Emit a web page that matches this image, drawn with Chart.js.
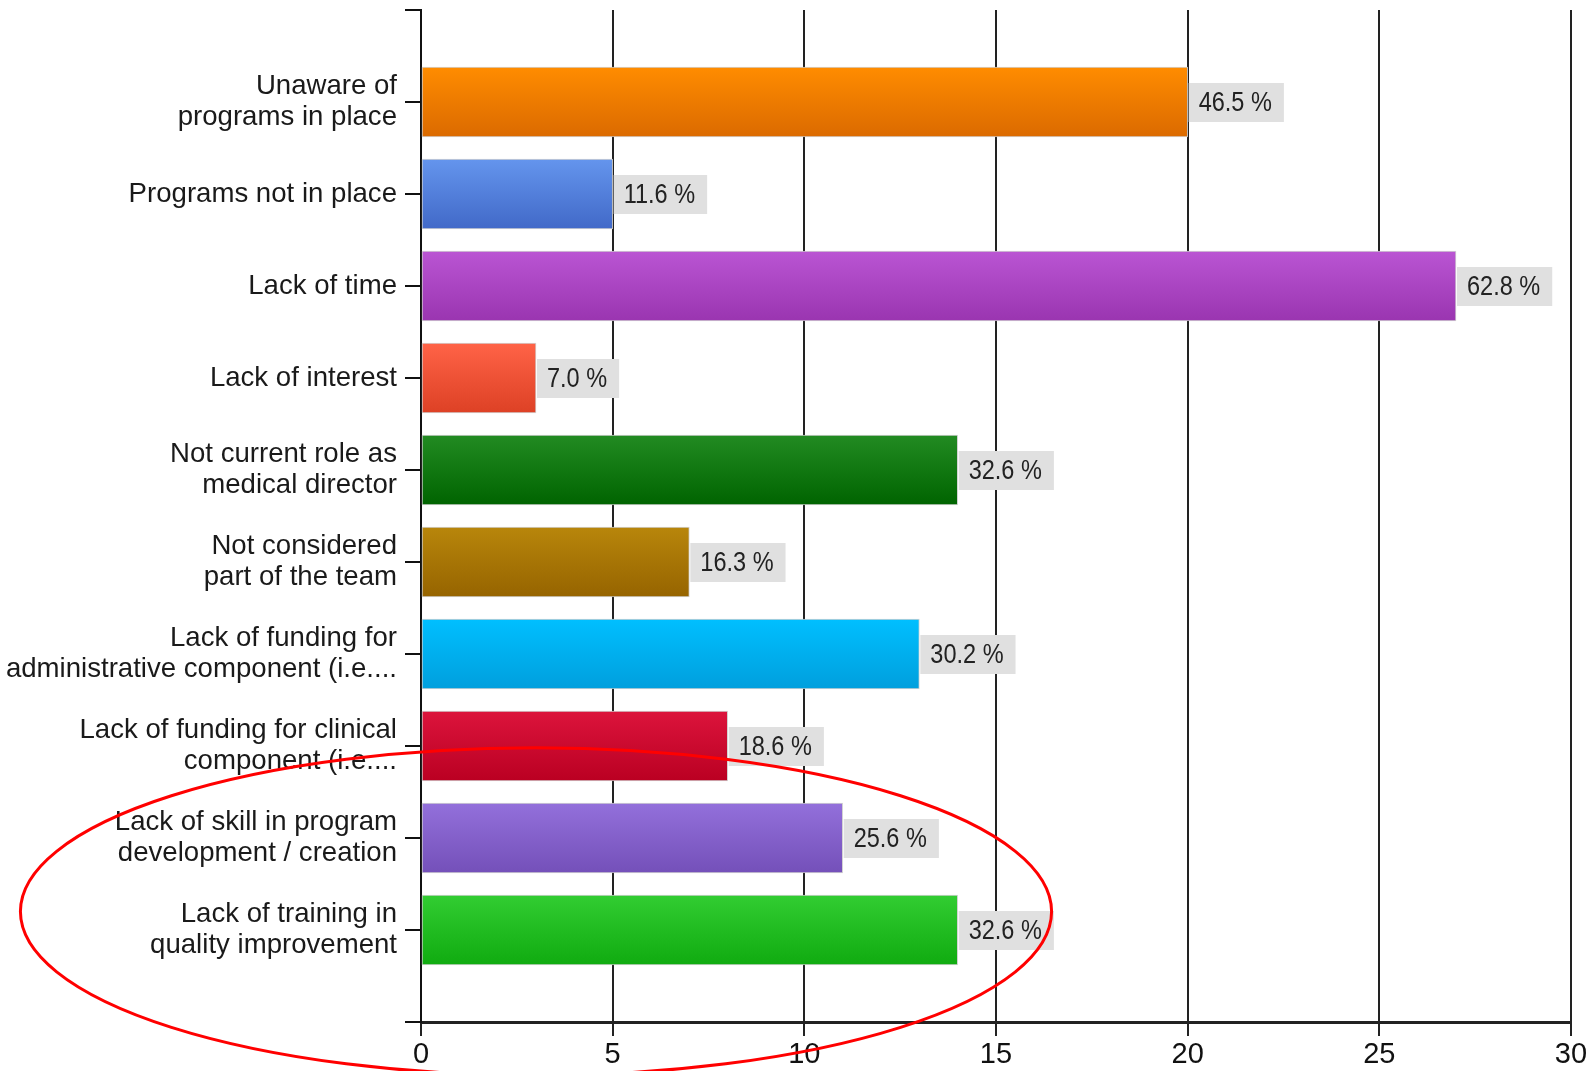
<!DOCTYPE html>
<html>
<head>
<meta charset="utf-8">
<script src="https://cdn.jsdelivr.net/npm/chart.js@4.4.0/dist/chart.umd.min.js"></script>
<style>
  html, body { margin: 0; padding: 0; background: #fff; }
  #wrap { width: 1590px; height: 1071px; position: relative; }
</style>
</head>
<body>
<div id="wrap"><canvas id="myChart"></canvas></div>
<script>
// categories, top to bottom
var categories = [
    ['Unaware of', 'programs in place'],
    'Programs not in place',
    'Lack of time',
    'Lack of interest',
    ['Not current role as', 'medical director'],
    ['Not considered', 'part of the team'],
    ['Lack of funding for', 'administrative component (i.e....'],
    ['Lack of funding for clinical', 'component (i.e....'],
    ['Lack of skill in program', 'development / creation'],
    ['Lack of training in', 'quality improvement']
];
var counts = [20, 5, 27, 3, 14, 7, 13, 8, 11, 14];
var percents = ['46.5 %', '11.6 %', '62.8 %', '7.0 %', '32.6 %', '16.3 %', '30.2 %', '18.6 %', '25.6 %', '32.6 %'];
var xTicks = [0, 5, 10, 15, 20, 25, 30];

// gradient top / bottom colours per bar
var topColors = ['#FF8C00', '#6495ED', '#BA55D3', '#FF6347', '#228B22', '#B8860B', '#00BFFF', '#DC143C', '#9370DB', '#32CD32'];
var bottomColors = ['#DB6A00', '#4169C8', '#9A35B0', '#DD4125', '#006400', '#966400', '#009FDD', '#BA0022', '#7450B9', '#10AB10'];

// blank slot above and below the bars
var labels = [''].concat(categories, ['']);
var dataValues = [null].concat(counts, [null]);

var BAR_H = 70;

function barGradient(context) {
    const k = context.dataIndex - 1;
    if (k < 0 || k >= counts.length) return '#888';
    const chart = context.chart;
    const ys = chart.scales.y;
    if (!ys) return topColors[k];
    const yc = ys.getPixelForValue(context.dataIndex);
    const g = chart.ctx.createLinearGradient(0, yc - BAR_H / 2, 0, yc + BAR_H / 2);
    g.addColorStop(0, topColors[k]);
    g.addColorStop(1, bottomColors[k]);
    return g;
}

const valueBoxes = {
    id: 'valueBoxes',
    afterDatasetsDraw(chart) {
        const ctx = chart.ctx;
        const meta = chart.getDatasetMeta(0);
        const sx = 0.84;
        ctx.save();
        ctx.font = '28px "Liberation Sans", Arial, sans-serif';
        ctx.textBaseline = 'middle';
        meta.data.forEach(function (el, i) {
            const k = i - 1;
            if (k < 0 || k >= percents.length) return;
            const txt = percents[k];
            const w = ctx.measureText(txt).width * sx + 22;
            const x = el.x + 1;
            ctx.fillStyle = '#e0e0e0';
            ctx.fillRect(x, el.y - 19, w, 39);
            ctx.save();
            ctx.translate(x + 10, el.y + 1);
            ctx.scale(sx, 1);
            ctx.fillStyle = '#222';
            ctx.fillText(txt, 0, 0);
            ctx.restore();
        });
        ctx.restore();
    }
};

// red ellipse round the last two bars
const ellipseMark = {
    id: 'ellipseMark',
    afterDraw(chart) {
        const ctx = chart.ctx;
        const xs = chart.scales.x, ys = chart.scales.y;
        const cx = xs.getPixelForValue(3.0);
        const cy = ys.getPixelForValue(9.8);
        const rx = xs.getPixelForValue(13.45) - xs.getPixelForValue(0);
        const ry = ys.getPixelForValue(1.78) - ys.getPixelForValue(0);
        ctx.save();
        ctx.strokeStyle = '#ff0000';
        ctx.lineWidth = 3;
        ctx.beginPath();
        ctx.ellipse(cx, cy, rx, ry, 0, 0, Math.PI * 2);
        ctx.stroke();
        ctx.restore();
    }
};

const data = {
    labels: labels,
    datasets: [
        {
            data: dataValues,
            backgroundColor: barGradient,
            borderColor: 'rgba(205,205,205,0.9)',
            borderWidth: 1,
            borderSkipped: false,
            barThickness: BAR_H
        }
    ]
};

const config = {
    type: 'bar',
    data,
    options: {
        indexAxis: 'y',
        responsive: true,
        maintainAspectRatio: false,
        devicePixelRatio: 1,
        animation: false,
        layout: { padding: { top: 10, right: 19, left: 0, bottom: 0 } },
        plugins: {
            legend: { display: false },
            tooltip: { enabled: false }
        },
        scales: {
            x: {
                type: 'linear',
                min: 0,
                max: 30,
                afterBuildTicks: function (scale) {
                    scale.ticks = xTicks.map(function (v) { return { value: v }; });
                },
                afterFit: function (scale) {
                    scale.height = 49;
                    scale.paddingLeft = 0;
                    scale.paddingRight = 0;
                },
                grid: {
                    color: '#222',
                    lineWidth: 2,
                    tickLength: 14,
                    drawTicks: true
                },
                border: { color: '#222', width: 3 },
                ticks: {
                    color: '#111',
                    padding: 2,
                    maxRotation: 0,
                    font: { family: '"Liberation Sans", Arial, sans-serif', size: 29 }
                }
            },
            y: {
                type: 'category',
                offset: false,
                afterFit: function (scale) {
                    scale.width = 421;
                    scale.paddingTop = 0;
                    scale.paddingBottom = 0;
                },
                grid: {
                    offset: false,
                    drawOnChartArea: false,
                    drawTicks: true,
                    tickLength: 16,
                    color: '#111',
                    lineWidth: 2
                },
                border: { color: '#111', width: 2 },
                ticks: {
                    autoSkip: false,
                    color: '#1a1a1a',
                    padding: 8,
                    font: { family: '"Liberation Sans", Arial, sans-serif', size: 27.6, lineHeight: 1.12 }
                }
            }
        }
    },
    plugins: [valueBoxes, ellipseMark]
};

const myChart = new Chart(document.getElementById('myChart'), config);
</script>
</body>
</html>
